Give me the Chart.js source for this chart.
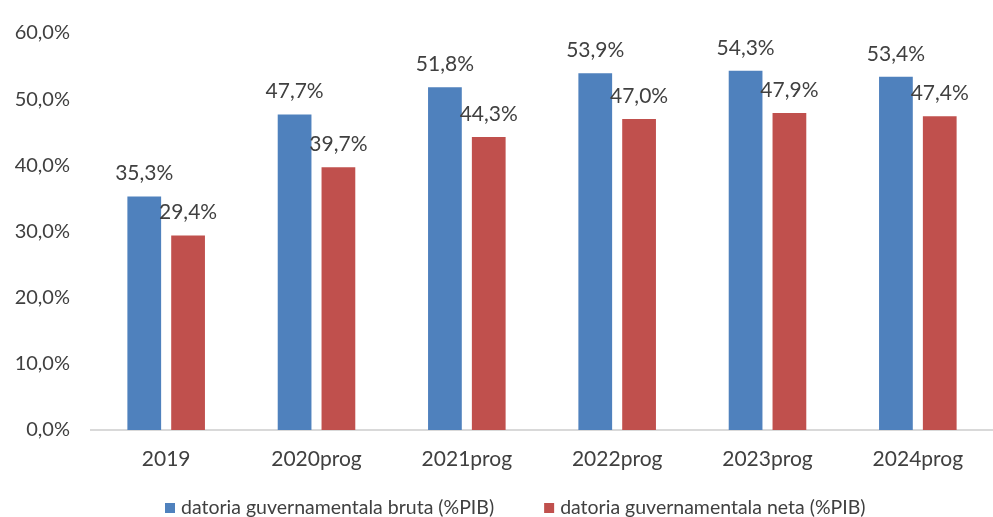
<!DOCTYPE html>
<html>
<head>
<meta charset="utf-8">
<script src="https://cdn.jsdelivr.net/npm/chart.js@4/dist/chart.umd.min.js"></script>
<style>
  html, body { margin: 0; padding: 0; background: #ffffff; }
  #wrap { width: 993px; height: 517px; }
</style>
</head>
<body>
<div id="wrap"><canvas id="c" width="993" height="517"></canvas></div>
<script>
// Government debt as share of GDP
const categories = ['2019', '2020prog', '2021prog', '2022prog', '2023prog', '2024prog'];
const grossDebt = [35.3, 47.7, 51.8, 53.9, 54.3, 53.4];
const netDebt = [29.4, 39.7, 44.3, 47.0, 47.9, 47.4];
const seriesNames = ['datoria guvernamentala bruta (%PIB)', 'datoria guvernamentala neta (%PIB)'];
const yTicks = [0, 10, 20, 30, 40, 50, 60];

const FONT = 'Lato, "Open Sans", sans-serif';
const TEXT = '#404040';
const fmt = v => v.toFixed(1).replace('.', ',') + '%';

// Value labels drawn above each bar
const valueLabels = {
  id: 'valueLabels',
  afterDatasetsDraw(chart) {
    const ctx = chart.ctx;
    ctx.save();
    ctx.font = '21px ' + FONT;
    ctx.fillStyle = TEXT;
    ctx.textAlign = 'center';
    ctx.textBaseline = 'alphabetic';
    chart.data.datasets.forEach((ds, i) => {
      const meta = chart.getDatasetMeta(i);
      meta.data.forEach((bar, j) => {
        ctx.fillText(fmt(ds.data[j]), bar.x, bar.y - 16);
      });
    });
    ctx.restore();
  }
};

// Series key along the bottom edge, square swatch before each name
const bottomKey = {
  id: 'bottomKey',
  afterDraw(chart) {
    const ctx = chart.ctx;
    const y = 508;
    const box = 10, gap = 6, spacing = 50;
    ctx.save();
    ctx.font = '19.5px ' + FONT;
    ctx.textBaseline = 'middle';
    ctx.textAlign = 'left';
    let x = 165;
    chart.data.datasets.forEach(ds => {
      ctx.fillStyle = ds.backgroundColor;
      ctx.fillRect(x, y - box / 2, box, box);
      x += box + gap;
      ctx.fillStyle = TEXT;
      ctx.fillText(ds.label, x, y);
      x += ctx.measureText(ds.label).width + spacing;
    });
    ctx.restore();
  }
};

new Chart(document.getElementById('c'), {
  type: 'bar',
  data: {
    labels: categories,
    datasets: [
      { label: seriesNames[0], data: grossDebt, backgroundColor: '#4F81BD' },
      { label: seriesNames[1], data: netDebt, backgroundColor: '#C0504D' }
    ]
  },
  options: {
    responsive: false,
    animation: false,
    devicePixelRatio: 1,
    categoryPercentage: 0.583,
    barPercentage: 0.77,
    layout: { padding: { top: 13, right: -4, left: 0, bottom: 37 } },
    plugins: {
      legend: { display: false },
      tooltip: { enabled: false }
    },
    scales: {
      x: {
        afterFit: axis => { axis.height = 50; },
        grid: { display: false, drawTicks: false },
        border: { display: true, color: '#D9D9D9', width: 2 },
        ticks: { color: TEXT, font: { family: FONT, size: 21 }, padding: 17 }
      },
      y: {
        min: 0,
        max: 60,
        afterFit: axis => { axis.width = 91; },
        afterBuildTicks: axis => { axis.ticks = yTicks.map(v => ({ value: v })); },
        grid: { display: false, drawTicks: false },
        border: { display: false },
        ticks: {
          color: TEXT,
          font: { family: FONT, size: 20 },
          padding: 21,
          callback: v => fmt(v)
        }
      }
    }
  },
  plugins: [valueLabels, bottomKey]
});
</script>
</body>
</html>
